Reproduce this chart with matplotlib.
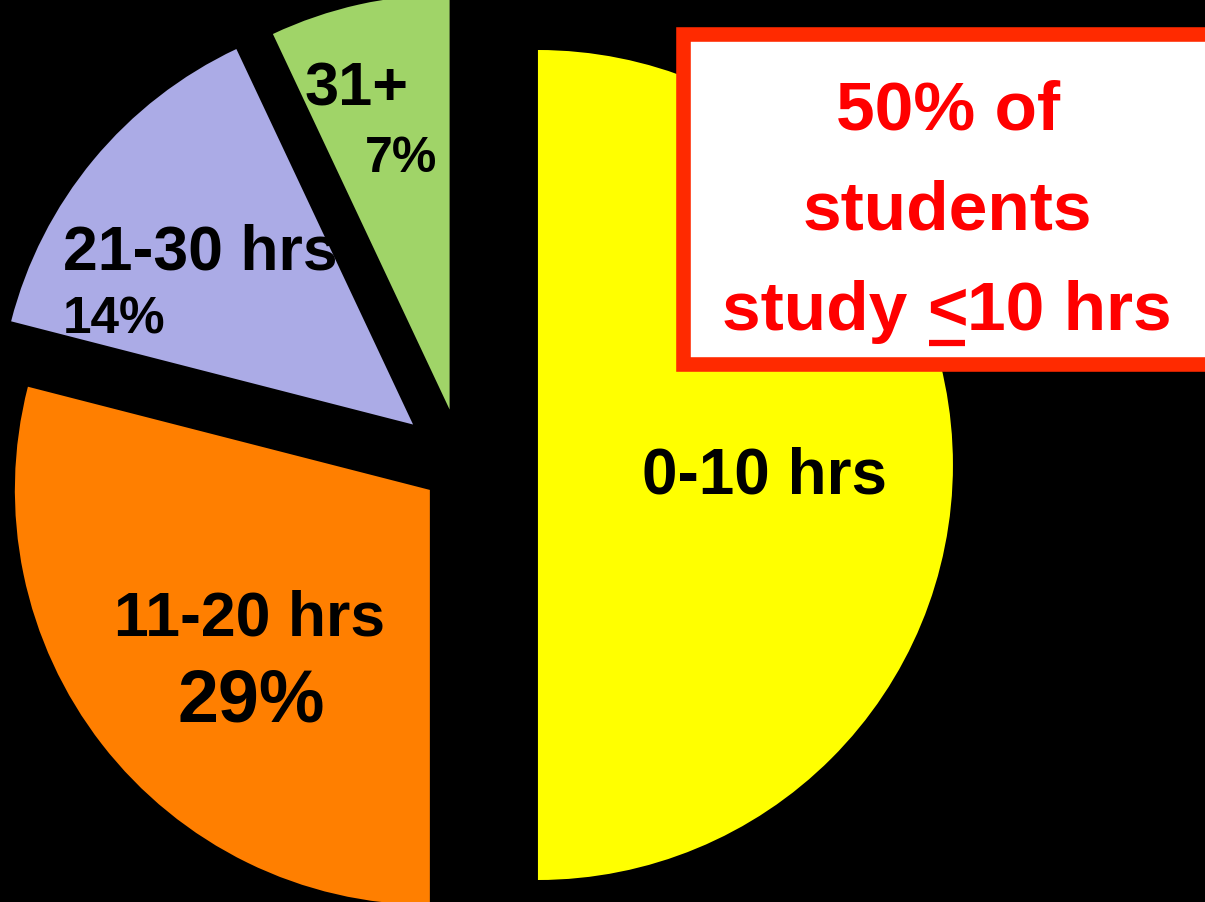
import matplotlib
matplotlib.use("Agg")
import matplotlib.pyplot as plt
from matplotlib.patches import Rectangle

categories = ["0-10 hrs", "11-20 hrs", "21-30 hrs", "31+"]
shares = [50, 29, 14, 7]
pct_labels = ["", "29%", "14%", "7%"]
colors = ["#FFFF00", "#FF7F00", "#ABABE6", "#A0D468"]
explode_frac = [0.183, 0.098, 0.153, 0.137]
callout_lines = ["50% of", "students"]

W, H = 1205, 902
R = 415
fig = plt.figure(figsize=(W / 100, H / 100), dpi=100, facecolor="black")
ax = fig.add_axes([0, 0, 1, 1])
ax.set_facecolor("black")

def Y(y):
    return H - y

ax.pie(shares, colors=colors, explode=[e * R for e in explode_frac],
       startangle=90, counterclock=False,
       center=(462, Y(465)), radius=R, frame=True,
       wedgeprops=dict(linewidth=0))
ax.set_xlim(0, W)
ax.set_ylim(0, H)
ax.set_aspect("equal")
ax.axis("off")

font = "Liberation Sans"
kw = dict(color="black", fontweight="bold", family=font, ha="left", va="baseline")
ax.text(642, Y(493), categories[0], fontsize=46, **kw)
ax.text(114, Y(636), categories[1], fontsize=45, **kw)
ax.text(178, Y(722), pct_labels[1], fontsize=53, **kw)
ax.text(63, Y(270), categories[2], fontsize=45, **kw)
ax.text(63, Y(333), pct_labels[2], fontsize=37, **kw)
ax.text(305, Y(105), categories[3], fontsize=44, **kw)
ax.text(365, Y(172), pct_labels[3], fontsize=36, **kw)

# callout box
ax.add_patch(Rectangle((683, Y(364)), 560, 330, facecolor="white",
                       edgecolor="#FF2A00", linewidth=10.5, zorder=5))
rkw = dict(color="#FF0000", fontweight="bold", family=font, va="baseline",
           fontsize=50, zorder=6)
ax.text(948, Y(130), callout_lines[0], ha="center", **rkw)
ax.text(947, Y(230), callout_lines[1], ha="center", **rkw)

# third line with underlined "<"
fig.canvas.draw()
r = fig.canvas.get_renderer()
parts = ["study ", "<", "10 hrs"]
widths = []
for p in parts:
    t = ax.text(0, 0, p, **rkw)
    widths.append(t.get_window_extent(renderer=r).width)
    t.remove()
t1 = ax.text(0, 0, "study x", **rkw); w1 = t1.get_window_extent(renderer=r).width; t1.remove()
t2 = ax.text(0, 0, "x", **rkw); w2 = t2.get_window_extent(renderer=r).width; t2.remove()
widths[0] = w1 - w2
total = sum(widths)
x = 947 - total / 2
for p, w in zip(parts, widths):
    ax.text(x, Y(330), p, ha="left", **rkw)
    if p == "<":
        ax.plot([x + 2, x + w - 2], [Y(343), Y(343)], color="#FF0000", lw=4.5,
                solid_capstyle="butt", zorder=6)
    x += w

fig.savefig("out.png", dpi=100, facecolor="black")
